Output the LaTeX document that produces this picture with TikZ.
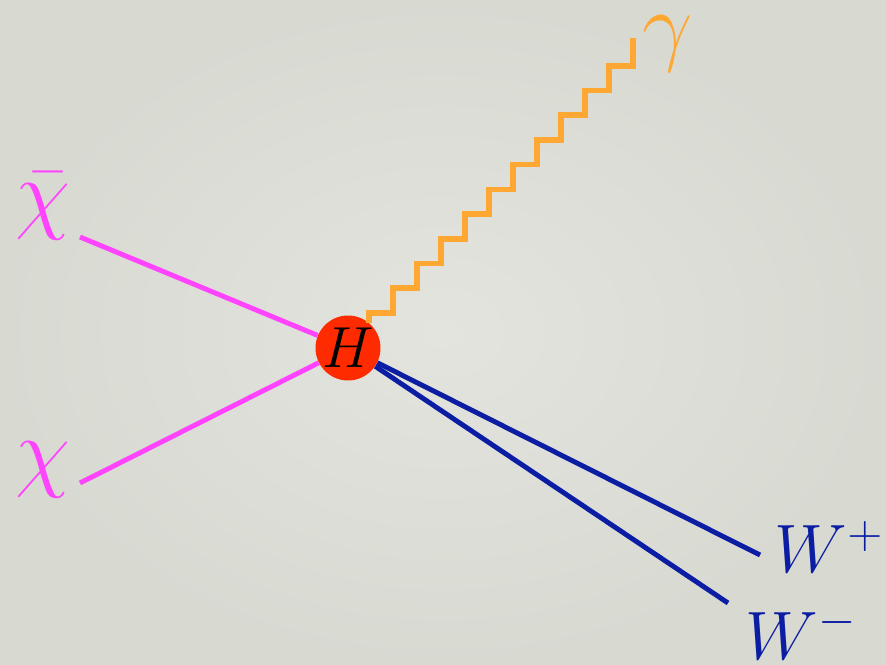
\RequirePackage{fix-cm}
\documentclass[tikz,border=0pt]{standalone}
\usepackage{amsmath}
\usepackage{tikz}
\usetikzlibrary{positioning}
\definecolor{chipink}{HTML}{FF44FF}
\definecolor{photonorange}{HTML}{FFA733}
\definecolor{wblue}{HTML}{0B1DA3}
\definecolor{higgsred}{HTML}{FF2B00}
\definecolor{bginner}{HTML}{E3E4DE}
\definecolor{bgouter}{HTML}{D8D9D1}

\begin{document}
\begin{tikzpicture}[
    x=0.02cm, y=-0.02cm,
    vertex/.style   = {circle, fill=higgsred, minimum size=1.18cm, inner sep=0pt,
                       font=\fontsize{33}{36}\selectfont},
    label/.style    = {inner sep=0pt, font=\fontsize{39}{46}\selectfont},
    biglabel/.style = {inner sep=0pt, font=\fontsize{51}{58}\selectfont},
    fermion/.style  = {line width=2.8pt, color=chipink},
    boson/.style    = {line width=2.8pt, color=wblue},
    photon/.style   = {line width=3.2pt, color=photonorange}
  ]
  \shade[inner color=bginner, outer color=bgouter] (0,0) rectangle (886,665);

  \node[vertex] (H) at (348,348) {$H$};

  \coordinate (chibarend) at (80,237);
  \coordinate (chiend)    at (80,483);
  \coordinate (wplusend)  at (760,555);
  \coordinate (wminusend) at (728,603);

  \node[biglabel, text=chipink]      (chibar) at (43,206) {$\bar{\chi}$};
  \node[biglabel, text=chipink]      (chi)    at (43,470) {$\chi$};
  \node[biglabel, text=photonorange] (gamma)  at (668,44) {$\gamma$};
  \node[label, text=wblue]           (wplus)  at (829,547) {$W^{+}$};
  \node[label, text=wblue]           (wminus) at (801,633) {$W^{-}$};

  \draw[fermion] (chibarend) -- (H);
  \draw[fermion] (chiend)    -- (H);
  \draw[boson]   (H) -- (wplusend);
  \draw[boson]   (H) -- (wminusend);
  \draw[photon, line join=miter] (H.50) -- ++(0,-10)
    \foreach \i in {1,...,10} { -- ++(24,0) -- ++(0,-24.7) }
    -- ++(24,0) -- ++(0,-28) coordinate (photonend);
\end{tikzpicture}
\end{document}
